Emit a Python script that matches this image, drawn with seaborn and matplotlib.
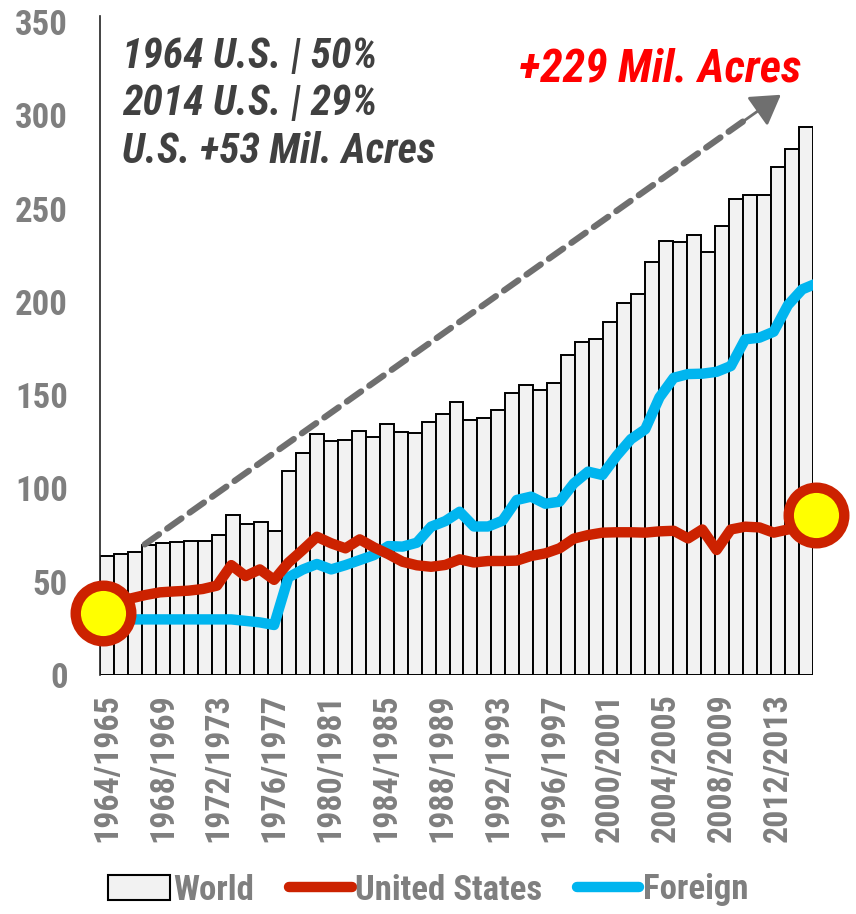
import numpy as np
import pandas as pd
import matplotlib
matplotlib.use('Agg')
import matplotlib.pyplot as plt
import seaborn as sns
from matplotlib import font_manager
from matplotlib.patches import Patch
from matplotlib.lines import Line2D

# Data (million acres)
seasons = [f'{y}/{y + 1}' for y in range(1964, 2015)]
world = [63.9, 64.7, 65.9, 69.7, 70.9, 71.3, 71.6, 71.6, 75.2, 85.6,
         80.7, 82.2, 77.2, 109.5, 118.8, 129.2, 125.4, 125.8, 130.9, 127.7,
         134.7, 130.4, 129.7, 135.6, 139.9, 146.1, 136.5, 137.9, 142.3, 151.0,
         155.6, 152.7, 156.5, 171.5, 178.6, 179.9, 189.0, 199.4, 204.0, 221.2,
         232.8, 232.2, 236.0, 226.7, 240.8, 255.3, 257.1, 257.1, 272.4, 281.9, 293.7]
united_states = [33.0, 38.8, 41.1, 42.9, 44.3, 44.8, 45.2, 46.1, 47.9, 58.9,
                 53.0, 56.6, 51.0, 60.2, 67.0, 74.1, 70.6, 67.9, 72.7, 68.4,
                 64.8, 60.7, 58.8, 58.0, 59.0, 62.0, 60.3, 61.1, 61.1, 61.3,
                 63.8, 65.2, 67.9, 73.1, 75.0, 76.3, 76.5, 76.5, 76.3, 77.0,
                 77.3, 73.2, 78.0, 67.0, 78.0, 79.5, 79.1, 76.3, 78.0, 79.1, 86.0]
foreign = [30.0, 29.8, 29.8, 29.8, 29.8, 29.8, 29.8, 29.8, 29.8, 29.8,
           29.0, 28.2, 26.8, 52.3, 56.5, 59.5, 56.6, 58.9, 61.6, 64.3,
           69.1, 68.8, 70.9, 79.5, 82.5, 87.5, 79.6, 79.6, 82.7, 93.8,
           95.6, 91.8, 92.9, 102.7, 109.0, 107.2, 117.5, 126.4, 131.7, 148.8,
           159.3, 161.3, 161.5, 162.5, 165.6, 179.9, 180.8, 184.0, 198.3, 206.7, 209.9]
yticks = [0, 50, 100, 150, 200, 250, 300, 350]

# narrow font (Arial Narrow look-alike)
fl = font_manager.fontManager.ttflist
def has(name, style='normal'):
    return any(f.name == name and f.weight == 700 and f.style == style for f in fl)

narrow = 'Roboto Condensed' if has('Roboto Condensed') else 'IBM Plex Sans Condensed'
narrow_it = narrow if has(narrow, 'italic') else 'IBM Plex Sans Condensed'

sns.set_style('white')
plt.rcParams['font.family'] = [narrow, 'DejaVu Sans']

gray = '#7f7f7f'
red = '#cc2200'
blue = '#00b5ef'

df = pd.DataFrame({'pos': np.arange(len(seasons)), 'world': world})

fig = plt.figure(figsize=(8.56, 9.14), dpi=100)
ax = fig.add_axes([100 / 856, 1 - 675 / 914, 713 / 856, 653 / 914])

sns.barplot(data=df, x='pos', y='world', native_scale=True, width=1.0,
            color='#f2f2f2', edgecolor='black', linewidth=1.4, ax=ax,
            saturation=1, zorder=1)

# lines span the whole plot width (secondary axis style)
line_x = np.linspace(-0.3, 50.75, len(seasons))
ax.plot(line_x, united_states, color=red, lw=7.5, solid_joinstyle='round',
        solid_capstyle='round', zorder=3)
ax.plot(line_x, foreign, color=blue, lw=7.5, solid_joinstyle='round',
        solid_capstyle='round', zorder=2)
ax.plot(line_x[[0, -1]], np.array(united_states)[[0, -1]], 'o', ms=40,
        mfc='#ffff00', mec=red, mew=7.5, clip_on=False, zorder=5)

# dashed growth arrow
start = np.array([2.7, 70.0])
end = np.array([48.2, 311.0])
head = end - 0.05 * (end - start)
ax.annotate('', xy=head, xytext=start,
            arrowprops=dict(arrowstyle='-', lw=4.5, color='#6f6f6f',
                            linestyle=(0, (2.8, 1.6)), shrinkA=0, shrinkB=0))
ax.annotate('', xy=end, xytext=head - 0.02 * (end - start),
            arrowprops=dict(arrowstyle='-|>,head_length=0.9,head_width=0.55',
                            lw=2, color='#6f6f6f', shrinkA=0, shrinkB=0,
                            mutation_scale=20))

ax.set_xlim(-0.5, 50.5)
ax.set_ylim(0, 350)
ax.set_yticks(yticks)
ax.set_yticklabels([str(t) for t in yticks], fontsize=25, fontweight='bold', color=gray)
ax.set_xticks(np.arange(0, len(seasons), 4))
ax.set_xticklabels(seasons[::4], rotation=90, fontsize=24.5, fontweight='bold', color=gray)
ax.tick_params(axis='y', length=0, pad=23)
ax.tick_params(axis='x', length=0, pad=13)
ax.set_xlabel('')
ax.set_ylabel('')
for s in ['top', 'right', 'bottom']:
    ax.spines[s].set_visible(False)
ax.spines['left'].set_color('#222222')
ax.spines['left'].set_linewidth(1.2)
ax.spines['left'].set_bounds(0, 353)

fig.text(122 / 856, 1 - 36 / 914, '1964 U.S. | 50%\n2014 U.S. | 29%\nU.S. +53 Mil. Acres',
         fontsize=30, fontweight='bold', fontstyle='italic', color='#404040',
         family=[narrow_it, 'DejaVu Sans'], va='top', ha='left', linespacing=1.2)
fig.text(519 / 856, 1 - 47 / 914, '+229 Mil. Acres', fontsize=33,
         fontweight='bold', fontstyle='italic', color='#ff0000',
         family=[narrow_it, 'DejaVu Sans'], va='top', ha='left')

handles = [Patch(facecolor='#f2f2f2', edgecolor='black', linewidth=1.5),
           Line2D([0], [0], color=red, lw=7.5, solid_capstyle='round'),
           Line2D([0], [0], color=blue, lw=7.5, solid_capstyle='round')]
leg = fig.legend(handles, ['World', 'United States', 'Foreign'], loc='center',
                 bbox_to_anchor=(0.5, 1 - 890 / 914), ncol=3, frameon=False,
                 prop={'family': narrow, 'size': 25, 'weight': 'bold'},
                 handlelength=1.8, handletextpad=0.1, columnspacing=1.0)
for t in leg.get_texts():
    t.set_color(gray)

fig.savefig('out.png', dpi=100)
